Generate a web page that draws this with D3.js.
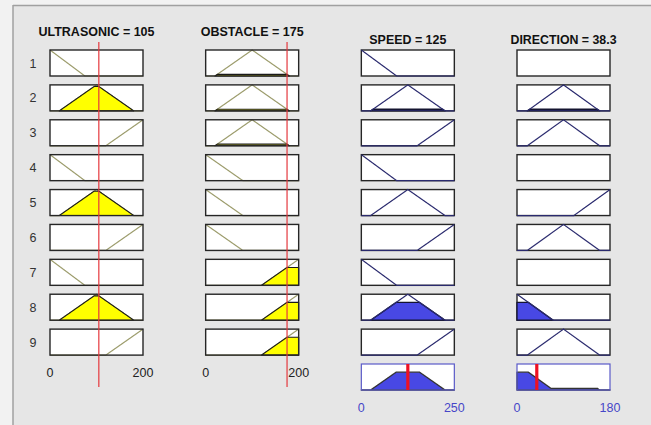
<!DOCTYPE html>
<html><head><meta charset="utf-8">
<script src="https://cdn.jsdelivr.net/npm/d3@7"></script>
<style>html,body{margin:0;padding:0;background:#f2f2f2;}svg{display:block;font-family:"Liberation Sans",Arial,sans-serif;}</style>
</head><body><div id="chart"></div>
<script>
// ---- data ----
const inputNames = ["ULTRASONIC", "OBSTACLE"];
const inputValues = [105, 175];
const inputRanges = [[0, 200], [0, 200]];
const outputNames = ["SPEED", "DIRECTION"];
const outputValues = [125, 38.3];
const outputRanges = [[0, 250], [0, 180]];
const axisLabels = [["0", "200"], ["0", "200"], ["0", "250"], ["0", "180"]];
const ruleNumbers = ["1","2","3","4","5","6","7","8","9"];

// membership functions [a, b, c] (triangles / shoulders)
const ultrasonicMFs = [[0, 0, 75], [20, 100, 180], [120, 200, 200]];   // near, medium, far
const obstacleMFs   = [[0, 0, 80], [20, 100, 180], [120, 200, 200]];   // near, medium, far
const speedMFs      = [[0, 0, 95], [25, 125, 225], [150, 250, 250]];   // slow, medium, fast
const directionMFs  = [[0, 0, 70], [20, 90, 160], [110, 180, 180]];    // left, straight, right

// rules (1-based MF index, 0 = none)
const ruleUltrasonic = [1, 2, 3, 1, 2, 3, 1, 2, 3];
const ruleObstacle   = [2, 2, 2, 1, 1, 1, 3, 3, 3];
const ruleSpeed      = [1, 2, 3, 1, 2, 3, 1, 2, 3];
const ruleDirection  = [0, 2, 2, 0, 3, 2, 0, 1, 2];

// ---- layout ----
const W = 651, H = 425;
const boxW = 93, boxH = 26;
const colX = d3.scaleLinear().domain([0, 3]).range([50, 517]);
const rowY = d3.scaleLinear().domain([0, 9]).range([50, 364]);

const svg = d3.select("#chart").append("svg").attr("width", W).attr("height", H);
svg.append("rect").attr("width", W).attr("height", H).attr("fill", "#f2f2f2");
svg.append("rect").attr("x", 13).attr("y", 5).attr("width", W - 13).attr("height", H - 5).attr("fill", "#e6e6e6");
svg.append("line").attr("x1", 13).attr("x2", W).attr("y1", 5.5).attr("y2", 5.5).attr("stroke", "#a0a0a0").attr("stroke-width", 1.5);
svg.append("line").attr("x1", 13).attr("x2", 13).attr("y1", 5).attr("y2", H).attr("stroke", "#a0a0a0").attr("stroke-width", 1.5);

function mu(p, x) {
  const [a, b, c] = p;
  let v;
  if (x < b) v = (b === a) ? 1 : (x - a) / (b - a);
  else v = (c === b) ? 1 : (c - x) / (c - b);
  return Math.max(0, Math.min(1, v));
}
function samples(lo, hi, extra) {
  const pts = d3.range(0, 401).map(k => lo + (hi - lo) * k / 400).concat(extra.filter(v => v >= lo && v <= hi));
  return Array.from(new Set(pts)).sort((a, b) => a - b);
}

const inMFs = [ultrasonicMFs, obstacleMFs];
const inRules = [ruleUltrasonic, ruleObstacle];
const outMFs = [speedMFs, directionMFs];
const outRules = [ruleSpeed, ruleDirection];

// degrees
const inDeg = inRules.map((rules, j) => rules.map(r => r ? mu(inMFs[j][r - 1], inputValues[j]) : 1));
const strength = d3.range(9).map(i => Math.min(inDeg[0][i], inDeg[1][i]));
const fired = d3.range(9).map(i => inDeg[0][i] > 0 && inDeg[1][i] > 0);

// titles
[0, 1].forEach(j => {
  svg.append("text").attr("x", colX(j) + boxW / 2).attr("y", 36).attr("text-anchor", "middle")
    .attr("font-size", 12).attr("font-weight", "bold").attr("fill", "#111")
    .attr("textLength", j === 0 ? 116 : 103).attr("lengthAdjust", "spacingAndGlyphs")
    .text(inputNames[j] + " = " + inputValues[j]);
});
[0, 1].forEach(j => {
  svg.append("text").attr("x", colX(j + 2) + boxW / 2).attr("y", 44).attr("text-anchor", "middle")
    .attr("font-size", 12).attr("font-weight", "bold").attr("fill", "#111")
    .attr("textLength", j === 0 ? 77 : 106).attr("lengthAdjust", "spacingAndGlyphs")
    .text(outputNames[j] + " = " + outputValues[j]);
});

// rule numbers
ruleNumbers.forEach((t, i) => {
  svg.append("text").attr("x", 33).attr("y", rowY(i) + boxH / 2 + 4.5).attr("text-anchor", "middle")
    .attr("font-size", 12.5).attr("fill", "#333").text(t);
});

// input cells
[0, 1].forEach(j => {
  const x0 = colX(j);
  const [lo, hi] = inputRanges[j];
  const xs = d3.scaleLinear().domain([lo, hi]).range([x0, x0 + boxW]);
  for (let i = 0; i < 9; i++) {
    const y0 = rowY(i);
    const ys = d3.scaleLinear().domain([0, 1]).range([y0 + boxH, y0]);
    const g = svg.append("g");
    g.append("rect").attr("x", x0).attr("y", y0).attr("width", boxW).attr("height", boxH).attr("fill", "#fff");
    const p = inMFs[j][inRules[j][i] - 1];
    const pts = samples(lo, hi, p);
    g.append("path").attr("d", d3.line().x(d => xs(d)).y(d => ys(mu(p, d)))(pts))
      .attr("fill", "none").attr("stroke", "#9c9c6c").attr("stroke-width", 1.2);
    const deg = inDeg[j][i];
    if (deg > 0) {
      const sLo = Math.max(lo, p[0] === p[1] ? lo : p[0]);
      const sHi = Math.min(hi, p[1] === p[2] ? hi : p[2]);
      const fp = samples(sLo, sHi, p);
      g.append("path").attr("d", d3.area().x(d => xs(d)).y0(ys(0)).y1(d => ys(Math.min(mu(p, d), deg)))(fp))
        .attr("fill", "#ffff00").attr("stroke", "#1a1a1a").attr("stroke-width", 1.1).attr("stroke-linejoin", "round");
    }
    g.append("rect").attr("x", x0).attr("y", y0).attr("width", boxW).attr("height", boxH)
      .attr("fill", "none").attr("stroke", "#262626").attr("stroke-width", 1.4);
  }
  // input value line
  svg.append("line").attr("x1", xs(inputValues[j])).attr("x2", xs(inputValues[j]))
    .attr("y1", 42).attr("y2", 387).attr("stroke", "#e5383d").attr("stroke-width", 1.2);
  // axis labels
  axisLabels[j].forEach((t, k) => {
    svg.append("text").attr("x", xs(k ? hi : lo)).attr("y", 377).attr("text-anchor", "middle")
      .attr("font-size", 12.5).attr("fill", "#222").text(t);
  });
});

// output cells
[0, 1].forEach(j => {
  const x0 = colX(j + 2);
  const [lo, hi] = outputRanges[j];
  const xs = d3.scaleLinear().domain([lo, hi]).range([x0, x0 + boxW]);
  for (let i = 0; i < 9; i++) {
    const y0 = rowY(i);
    const ys = d3.scaleLinear().domain([0, 1]).range([y0 + boxH, y0]);
    const g = svg.append("g");
    g.append("rect").attr("x", x0).attr("y", y0).attr("width", boxW).attr("height", boxH)
      .attr("fill", "#fff").attr("stroke", "#262626").attr("stroke-width", 1.4);
    const r = outRules[j][i];
    if (!r) continue;
    const p = outMFs[j][r - 1];
    if (fired[i]) {
      const sLo = Math.max(lo, p[0] === p[1] ? lo : p[0]);
      const sHi = Math.min(hi, p[1] === p[2] ? hi : p[2]);
      const fp = samples(sLo, sHi, p);
      g.append("path").attr("d", d3.area().x(d => xs(d)).y0(ys(0)).y1(d => ys(Math.min(mu(p, d), strength[i])))(fp))
        .attr("fill", "#4848e4").attr("stroke", "#141430").attr("stroke-width", 1.3).attr("stroke-linejoin", "round");
    }
    const pts = samples(lo, hi, p);
    g.append("path").attr("d", d3.line().x(d => xs(d)).y(d => ys(mu(p, d)))(pts))
      .attr("fill", "none").attr("stroke", "#2a2a6e").attr("stroke-width", 1.2);
  }
  // aggregate
  const y0 = rowY(9);
  const ys = d3.scaleLinear().domain([0, 1]).range([y0 + boxH, y0]);
  const g = svg.append("g");
  g.append("rect").attr("x", x0).attr("y", y0).attr("width", boxW).attr("height", boxH).attr("fill", "#fff");
  const extras = [].concat(...outMFs[j]);
  const ap = samples(lo, hi, extras);
  const agg = x => d3.max(d3.range(9), i => (fired[i] && outRules[j][i]) ? Math.min(mu(outMFs[j][outRules[j][i] - 1], x), strength[i]) : 0);
  g.append("path").attr("d", d3.area().x(d => xs(d)).y0(ys(0)).y1(d => ys(agg(d)))(ap))
    .attr("fill", "#4848e4").attr("stroke", "#333").attr("stroke-width", 1.3).attr("stroke-linejoin", "round");
  g.append("rect").attr("x", x0).attr("y", y0).attr("width", boxW).attr("height", boxH)
    .attr("fill", "none").attr("stroke", "#5a5ac8").attr("stroke-width", 1.2);
  g.append("line").attr("x1", xs(outputValues[j])).attr("x2", xs(outputValues[j]))
    .attr("y1", y0).attr("y2", y0 + boxH).attr("stroke", "#ee1122").attr("stroke-width", 3.2);
  axisLabels[j + 2].forEach((t, k) => {
    svg.append("text").attr("x", xs(k ? hi : lo)).attr("y", 412).attr("text-anchor", "middle")
      .attr("font-size", 12.5).attr("fill", "#4646c8").text(t);
  });
});
</script></body></html>
